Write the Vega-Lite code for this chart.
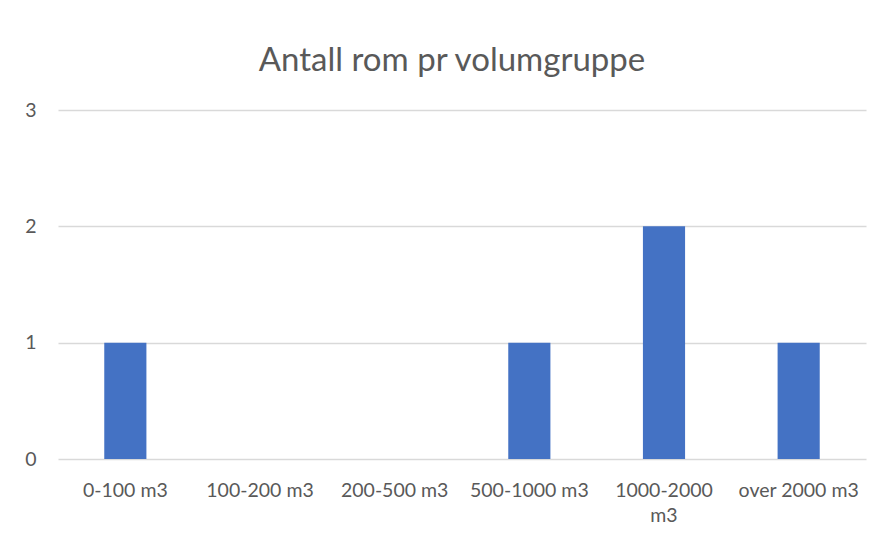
{
  "$schema": "https://vega.github.io/schema/vega-lite/v6.json",
  "width": 808,
  "height": 349,
  "autosize": {"type": "none"},
  "padding": {"left": 58, "top": 110, "right": 17, "bottom": 80},
  "background": "white",
  "title": {
    "text": "Antall rom pr volumgruppe",
    "font": "Lato",
    "fontSize": 33,
    "fontWeight": "normal",
    "color": "#595959",
    "anchor": "middle",
    "frame": "group",
    "baseline": "alphabetic",
    "offset": 0,
    "dy": 4,
    "dx": -10
  },
  "data": {
    "values": [
      {"gruppe": "0-100 m3", "antall": 1},
      {"gruppe": "100-200 m3", "antall": 0},
      {"gruppe": "200-500 m3", "antall": 0},
      {"gruppe": "500-1000 m3", "antall": 1},
      {"gruppe": "1000-2000 m3", "antall": 2},
      {"gruppe": "over 2000 m3", "antall": 1}
    ]
  },
  "mark": {"type": "bar", "color": "#4472c4"},
  "encoding": {
    "x": {
      "field": "gruppe",
      "type": "nominal",
      "sort": null,
      "scale": {"paddingInner": 0.687, "paddingOuter": 0.3435},
      "axis": {
        "title": null,
        "labelAngle": 0,
        "domain": false,
        "ticks": false,
        "tickSize": 0,
        "labelPadding": 37,
        "labelBaseline": "alphabetic",
        "labelFont": "Lato",
        "labelFontSize": 19.5,
        "labelColor": "#595959",
        "labelLineHeight": 25,
        "labelExpr": "datum.value == '1000-2000 m3' ? ['1000-2000', 'm3'] : datum.value"
      }
    },
    "y": {
      "field": "antall",
      "type": "quantitative",
      "scale": {"domain": [0, 3], "nice": false},
      "axis": {
        "title": null,
        "values": [0, 1, 2, 3],
        "domain": false,
        "ticks": false,
        "tickSize": 0,
        "labelPadding": 22,
        "labelFont": "Lato",
        "labelFontSize": 19.5,
        "labelColor": "#595959",
        "labelAlign": "right",
        "gridColor": "#d9d9d9",
        "gridWidth": 1.3
      }
    }
  },
  "config": {"view": {"stroke": null}}
}
